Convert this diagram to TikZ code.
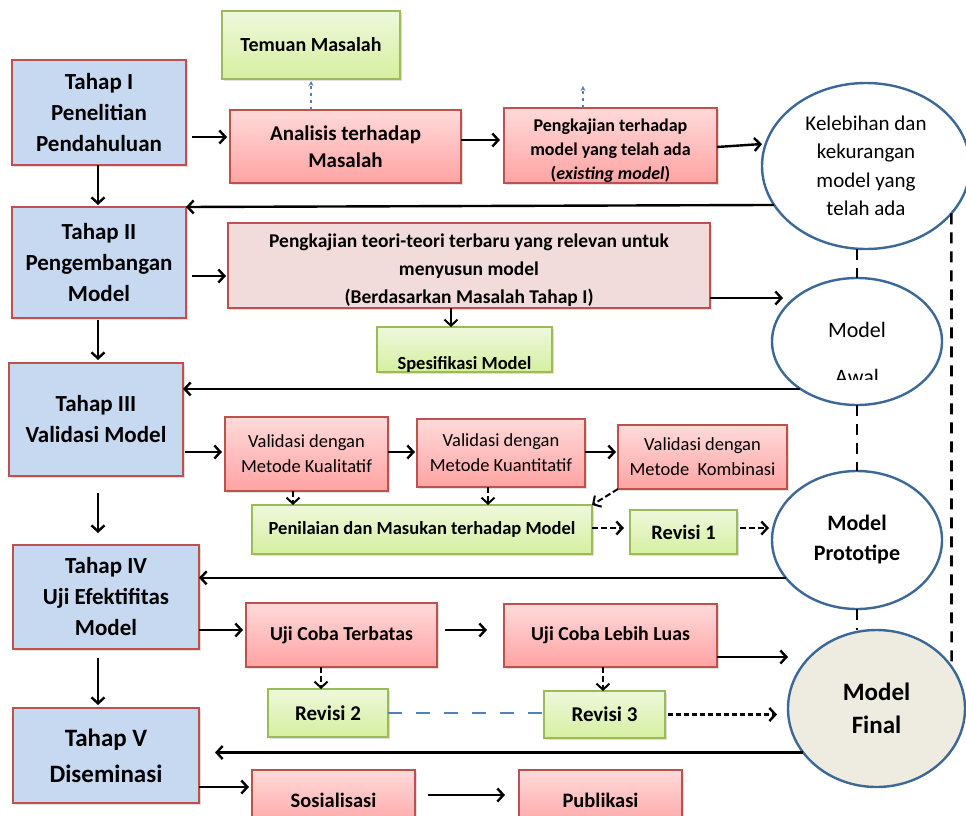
\documentclass[tikz,border=0pt]{standalone}
\usepackage{fontspec}
\setmainfont{Carlito}
\usetikzlibrary{shapes.geometric,arrows.meta,shadows}

\definecolor{bluefill}{HTML}{C6D9F1}
\definecolor{redline}{HTML}{C0504D}
\definecolor{pinktop}{HTML}{FFDADA}
\definecolor{pinkbot}{HTML}{FFA3A3}
\definecolor{greentop}{HTML}{EEF8DC}
\definecolor{greenbot}{HTML}{D6EFA0}
\definecolor{greenline}{HTML}{9BBB59}
\definecolor{teorifill}{HTML}{F2DCDB}
\definecolor{ellline}{HTML}{3C6898}
\definecolor{finalfill}{HTML}{EEEBE0}
\definecolor{dotblue}{HTML}{4F81BD}

\tikzset{
  every node/.style={inner sep=0pt, outer sep=0pt, align=center},
  shad/.style={drop shadow={opacity=0.25, shadow xshift=1.5pt, shadow yshift=-1.5pt}},
  stagebox/.style={shad, draw=redline, line width=2.6pt, fill=bluefill,
    font=\bfseries\fontsize{23}{31}\selectfont},
  pinkbox/.style={shad, draw=redline, line width=2.4pt, top color=pinktop, bottom color=pinkbot},
  greenbox/.style={shad, draw=greenline, line width=2.4pt, top color=greentop, bottom color=greenbot},
  oval/.style={ellipse, draw=ellline, line width=2.4pt, fill=white},
  arr/.style={-{Straight Barb[length=6pt,width=13pt]}, line width=2.4pt},
  darr/.style={arr, dash pattern=on 6pt off 3pt},
  vdash/.style={line width=2.6pt, dash pattern=on 11pt off 8pt},
  bluedot/.style={dotblue, line width=1.4pt, dash pattern=on 3pt off 4pt,
    -{Stealth[length=5pt,width=5pt]}},
  bluedash/.style={dotblue, line width=2.4pt, dash pattern=on 14pt off 14pt},
}

\begin{document}
\begin{tikzpicture}[x=1pt,y=-1pt]
\useasboundingbox[fill=white] (0,0) rectangle (966,816);

% stage boxes
\node[stagebox, minimum width=174pt, minimum height=105pt] (T1) at (99,112.5) {Tahap I\\Penelitian\\Pendahuluan};
\node[stagebox, minimum width=174pt, minimum height=111pt] (T2) at (99,262.5) {Tahap II\\Pengembangan\\Model};
\node[stagebox, minimum width=174pt, minimum height=113pt] (T3) at (96,419.5) {Tahap III\\Validasi Model};
\node[stagebox, minimum width=186pt, minimum height=104pt] (T4) at (106,597) {Tahap IV\\Uji Efektifitas\\Model};
\node[stagebox, minimum width=186pt, minimum height=95pt, font=\bfseries\fontsize{25}{36}\selectfont] (T5) at (106,755.5) {Tahap V\\Diseminasi};

% row 1
\node[greenbox, minimum width=178pt, minimum height=68pt, font=\bfseries\fontsize{20}{24}\selectfont] (Tem) at (311,45) {Temuan Masalah};
\node[pinkbox, minimum width=231pt, minimum height=73pt, font=\bfseries\fontsize{21}{27}\selectfont] (A) at (345.5,146.5) {Analisis terhadap\\Masalah};
\node[pinkbox, minimum width=213pt, minimum height=75pt] (P) at (610.5,145.5) {};
\node[font=\bfseries\fontsize{18}{24}\selectfont] (Ptext) at (610.5,151) {Pengkajian terhadap\\model yang telah ada\\(\textit{existing model})};
\node[oval, minimum width=208pt, minimum height=166pt, font=\fontsize{21}{28.5}\selectfont] (K) at (866,166) {Kelebihan dan\\kekurangan\\model yang\\telah ada};

% row 2
\node[shad, draw=redline, line width=2.4pt, fill=teorifill, minimum width=482pt, minimum height=85pt] (Teori) at (469,265.5) {};
\node[font=\bfseries\fontsize{19.5}{28}\selectfont] (Teoritext) at (469,270.5) {Pengkajian teori-teori terbaru yang relevan untuk\\menyusun model\\(Berdasarkan Masalah Tahap I)};
\node[greenbox, minimum width=175pt, text height=42pt, text depth=3pt, font=\bfseries\fontsize{18.5}{22}\selectfont] (Spec) at (464.5,349.5) {Spesifikasi Model};
\node[oval, minimum width=170pt, minimum height=127pt] (MA) at (857,341.5) {};
\node[font=\fontsize{22}{26}\selectfont] (MAt) at (857,330) {Model};
\begin{scope}
  \clip (800,355) rectangle (920,379);
  \node[font=\fontsize{22}{26}\selectfont] (MAw) at (857,377) {Awal};
\end{scope}

% row 3
\node[pinkbox, minimum width=163pt, minimum height=74pt, font=\fontsize{18.5}{25}\selectfont] (VK) at (306.5,454) {Validasi dengan\\Metode Kualitatif};
\node[pinkbox, minimum width=168pt, minimum height=68pt, font=\fontsize{18.5}{25}\selectfont] (VKn) at (501,453) {Validasi dengan\\Metode Kuantitatif};
\node[pinkbox, minimum width=169pt, minimum height=64pt, font=\fontsize{18.5}{25}\selectfont] (VKb) at (702.5,457) {Validasi dengan\\Metode~~Kombinasi};
\node[greenbox, minimum width=340pt, minimum height=49pt, font=\bfseries\fontsize{18.5}{22}\selectfont] (Pen) at (422,529.5) {Penilaian dan Masukan terhadap Model};
\node[greenbox, minimum width=107pt, minimum height=44pt, font=\bfseries\fontsize{20.5}{24}\selectfont] (R1) at (683.5,532) {Revisi 1};
\node[oval, minimum width=170pt, minimum height=138pt, font=\bfseries\fontsize{22}{30}\selectfont] (Proto) at (857,540) {Model\\Prototipe};

% row 4
\node[pinkbox, minimum width=191pt, minimum height=64pt, font=\bfseries\fontsize{19.8}{24}\selectfont] (UCT) at (341.5,635) {Uji Coba Terbatas};
\node[pinkbox, minimum width=213pt, minimum height=63pt, font=\bfseries\fontsize{19.8}{24}\selectfont] (UCL) at (610.5,635.5) {Uji Coba Lebih Luas};
\node[greenbox, minimum width=120pt, minimum height=48pt, font=\bfseries\fontsize{21}{24}\selectfont] (R2) at (328,713) {Revisi 2};
\node[greenbox, minimum width=121pt, minimum height=47pt, font=\bfseries\fontsize{21}{24}\selectfont] (R3) at (604.5,714.5) {Revisi 3};
\node[oval, fill=finalfill, minimum width=177pt, minimum height=157pt, font=\bfseries\fontsize{25}{33}\selectfont] (Final) at (876.5,708.5) {Model\\Final};

% row 5
\node[pinkbox, minimum width=163pt, minimum height=60pt, font=\bfseries\fontsize{20.5}{24}\selectfont] (Sos) at (333.5,800) {Sosialisasi};
\node[pinkbox, minimum width=163pt, minimum height=60pt, font=\bfseries\fontsize{20.5}{24}\selectfont] (Pub) at (600.5,800) {Publikasi};

\coordinate (Pup) at (583,86);
\coordinate (MAin) at (783,298);

% connectors: vertical stage flow
\draw[arr, shorten >=2pt] (T1.south -| 98,0) -- (T2.north -| 98,0);
\draw[arr, shorten <=2pt, shorten >=3pt] (T2.south -| 98,0) -- (T3.north -| 98,0);
\draw[arr, shorten <=17pt, shorten >=12pt] (T3.south -| 98,0) -- (T4.north -| 98,0);
\draw[arr, shorten <=9pt, shorten >=3pt] (T4.south -| 98,0) -- (T5.north -| 98,0);

% row 1
\draw[arr, shorten <=6pt, shorten >=3pt] (T1.east |- 0,137) -- (A.west |- 0,137);
\draw[bluedot, shorten >=2pt] (Tem.south |- A.north) -- (Tem.south);
\draw[arr, shorten >=4pt] (A.east |- 0,140) -- (P.west |- 0,140);
\draw[bluedot] (P.north -| Pup) -- (Pup);
\draw[arr] (P.east |- 0,147) -- (K.west |- 0,144);
\draw[arr] (K.203) -- (T2.north east);

% row 2
\draw[arr, shorten <=6pt, shorten >=2pt] (T2.east |- 0,276) -- (Teori.west |- 0,276);
\draw[arr, line width=2pt] (Teori.south -| 451,0) -- (Spec.north -| 451,0);
\draw[arr] (Teori.east |- MAin) -- (MAin);
\draw[arr] (MA.220) -- (T3.east |- MA.220);

% row 3
\draw[arr, shorten <=2pt, shorten >=3pt] (T3.east |- 0,452) -- (VK.west |- 0,452);
\draw[arr, shorten >=2pt] (VK.east |- 0,452) -- (VKn.west |- 0,452);
\draw[arr, shorten >=2pt] (VKn.east |- 0,452) -- (VKb.west |- 0,452);
\draw[darr, line width=2pt] (VK.south -| 293,0) -- (Pen.north -| 293,0);
\draw[darr, line width=2pt] (VKn.south -| 488,0) -- (Pen.north -| 488,0);
\draw[darr, line width=2pt] (VKb.south west) -- (Pen.north east);
\draw[darr, shorten >=6pt] (Pen.east |- 0,528) -- (R1.west |- 0,528);
\draw[darr, shorten <=3pt, shorten >=3pt] (R1.east |- 0,528) -- (Proto.west |- 0,528);
\draw[arr] (Proto.208) -- (T4.east |- Proto.208);

% row 4
\draw[arr, shorten >=3pt] (T4.east |- 0,630) -- (UCT.west |- 0,630);
\draw[arr, shorten <=8pt, shorten >=17pt] (UCT.east |- 0,630) -- (UCL.west |- 0,630);
\draw[arr] (UCL.east |- 0,657) -- (Final.west |- 0,657);
\draw[darr, line width=2pt] (UCT.south -| 321,0) -- (R2.north -| 321,0);
\draw[darr, line width=2pt] (UCL.south -| 603,0) -- (R3.north -| 603,0);
\draw[bluedash] (R2.east) -- (R3.west |- R2.east);
\draw[darr, dash pattern=on 5pt off 3pt, shorten <=3pt, shorten >=11pt] (R3.east) -- (Final.west |- R3.east);
\draw[arr, shorten >=16pt] (Final.211) -- (T5.east |- Final.211);

% row 5
\draw[arr, shorten >=3pt] (T5.east |- 0,787) -- (Sos.west |- 0,787);
\draw[arr, shorten <=13pt, shorten >=14pt] (Sos.east |- 0,795) -- (Pub.west |- 0,795);

% dashed links between ovals
\draw[vdash] (K.south -| MA.north) -- (MA.north);
\draw[vdash] (MA.south) -- (Proto.north);
\draw[vdash] (Proto.south) -- (Final.north -| Proto.south);
\draw[vdash] (K.-29.4) -- (Final.29.6);
\end{tikzpicture}
\end{document}
